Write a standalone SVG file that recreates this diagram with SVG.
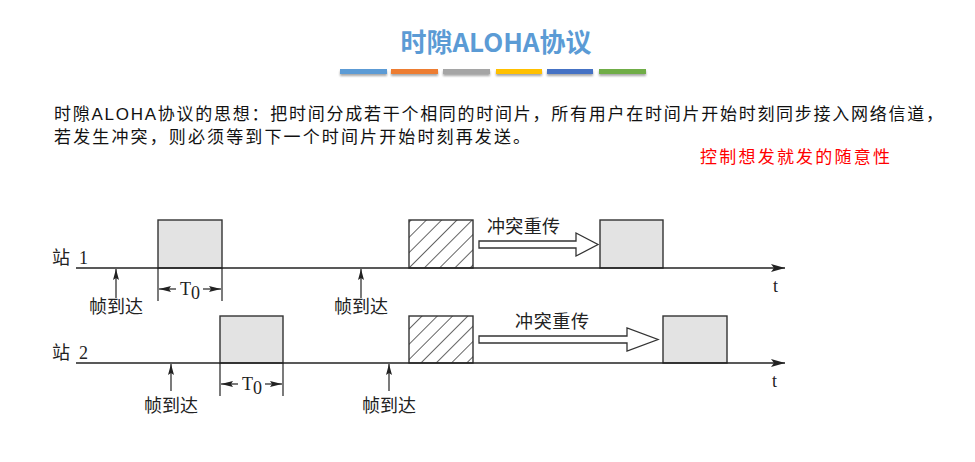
<svg xmlns="http://www.w3.org/2000/svg" width="975" height="462" viewBox="0 0 975 462">
  <style>
    .title { font-family: "Noto Sans CJK SC", "Liberation Sans", sans-serif; font-size: 26px; font-weight: bold; fill: #5B9BD5; }
    .para { font-family: "Liberation Sans", "Noto Sans CJK SC", sans-serif; font-size: 17px; fill: #111; }
    .note { font-family: "Liberation Sans", "Noto Sans CJK SC", sans-serif; font-size: 17px; fill: #FF0000; }
    .lbl { font-family: "Liberation Serif", "Noto Sans CJK SC", serif; font-size: 18px; fill: #222; }
    .axis { stroke: #222; stroke-width: 1.7; fill: none; }
    .thin { stroke: #222; stroke-width: 1.2; fill: none; }
    .frame { fill: #E3E3E3; stroke: #333; stroke-width: 1.4; }
    .collide { fill: url(#hatch); stroke: #333; stroke-width: 1.4; }
    .retx { fill: #FFFFFF; stroke: #333; stroke-width: 1.3; }
  </style>
  <defs>
    <pattern id="hatch" patternUnits="userSpaceOnUse" width="10.8" height="10.8" x="3" patternTransform="rotate(45)">
      <line x1="0" y1="0" x2="0" y2="10.8" stroke="#222" stroke-width="1.4"/>
    </pattern>
    <marker id="axisHead" viewBox="0 0 14 8" refX="14" refY="4" markerWidth="14" markerHeight="8" markerUnits="userSpaceOnUse" orient="auto">
      <path d="M0,0 L14,4 L0,8 L3,4 Z" fill="#222"/>
    </marker>
    <marker id="upHead" viewBox="0 0 11 6" refX="11" refY="3" markerWidth="11" markerHeight="6" markerUnits="userSpaceOnUse" orient="auto">
      <path d="M0,0 L11,3 L0,6 L2,3 Z" fill="#222"/>
    </marker>
    <marker id="dimHead" viewBox="0 0 12 6" refX="12" refY="3" markerWidth="12" markerHeight="6" markerUnits="userSpaceOnUse" orient="auto">
      <path d="M0,0 L12,3 L0,6 L2,3 Z" fill="#222"/>
    </marker>
    <filter id="barShadow" x="-10%" y="-50%" width="120%" height="250%">
      <feDropShadow dx="0" dy="2" stdDeviation="1.2" flood-color="#000" flood-opacity="0.35"/>
    </filter>
  </defs>

  <!-- heading -->
  <g id="heading">
    <text class="title" x="496" y="52" text-anchor="middle">时隙ALOHA协议</text>
    <g filter="url(#barShadow)">
      <rect x="340" y="69" width="47" height="5" fill="#5B9BD5"/>
      <rect x="391" y="69" width="47" height="5" fill="#ED7D31"/>
      <rect x="443" y="69" width="47" height="5" fill="#A5A5A5"/>
      <rect x="496" y="69" width="46" height="5" fill="#FFC000"/>
      <rect x="547" y="69" width="46" height="5" fill="#4472C4"/>
      <rect x="599" y="69" width="47" height="5" fill="#70AD47"/>
    </g>
  </g>

  <!-- description -->
  <g id="description">
    <text class="para" x="54" y="120" textLength="889" lengthAdjust="spacing">时隙ALOHA协议的思想：把时间分成若干个相同的时间片，所有用户在时间片开始时刻同步接入网络信道，</text>
    <text class="para" x="54" y="143" textLength="476" lengthAdjust="spacing">若发生冲突，则必须等到下一个时间片开始时刻再发送。</text>
    <text class="note" x="700" y="163" textLength="190" lengthAdjust="spacing">控制想发就发的随意性</text>
  </g>

  <!-- station 1 timeline -->
  <g id="station1">
    <text class="lbl" x="52" y="264">站</text>
    <text class="lbl" x="79" y="264">1</text>
    <rect class="frame" x="158" y="220" width="64" height="48"/>
    <rect class="collide" x="409" y="220" width="64" height="48"/>
    <rect class="frame" x="600" y="220" width="63" height="48"/>
    <text class="lbl" x="487" y="233" textLength="73" lengthAdjust="spacing">冲突重传</text>
    <text class="lbl" x="773" y="292" font-size="17">t</text>
    <text class="lbl" x="116" y="313" text-anchor="middle">帧到达</text>
    <text class="lbl" x="361" y="313" text-anchor="middle">帧到达</text>
    <text class="lbl" x="180" y="295">T</text>
    <text class="lbl" x="191" y="299" font-size="13">0</text>
  </g>

  <!-- station 2 timeline -->
  <g id="station2">
    <text class="lbl" x="52" y="359">站</text>
    <text class="lbl" x="79" y="359">2</text>
    <rect class="frame" x="220" y="316" width="63" height="47"/>
    <rect class="collide" x="409" y="316" width="64" height="47"/>
    <rect class="frame" x="663" y="316" width="64" height="47"/>
    <text class="lbl" x="515" y="328" textLength="74" lengthAdjust="spacing">冲突重传</text>
    <text class="lbl" x="772" y="387" font-size="17">t</text>
    <text class="lbl" x="171" y="412" text-anchor="middle">帧到达</text>
    <text class="lbl" x="389" y="412" text-anchor="middle">帧到达</text>
    <text class="lbl" x="242" y="390">T</text>
    <text class="lbl" x="253" y="394" font-size="13">0</text>
  </g>

  <!-- connectors: time axes, arrival arrows, T0 spans, retransmission arrows -->
  <g id="connectors">
    <line class="axis" x1="76" y1="268" x2="785" y2="268" marker-end="url(#axisHead)"/>
    <line class="axis" x1="76" y1="363" x2="785" y2="363" marker-end="url(#axisHead)"/>

    <line class="thin" x1="116" y1="298" x2="116" y2="269" marker-end="url(#upHead)"/>
    <line class="thin" x1="361" y1="298" x2="361" y2="269" marker-end="url(#upHead)"/>
    <line class="thin" x1="171" y1="391" x2="171" y2="364" marker-end="url(#upHead)"/>
    <line class="thin" x1="389" y1="391" x2="389" y2="364" marker-end="url(#upHead)"/>

    <line class="thin" x1="158" y1="268" x2="158" y2="301"/>
    <line class="thin" x1="222" y1="268" x2="222" y2="301"/>
    <line class="thin" x1="176" y1="289" x2="159" y2="289" marker-end="url(#dimHead)"/>
    <line class="thin" x1="203" y1="289" x2="221" y2="289" marker-end="url(#dimHead)"/>

    <line class="thin" x1="220" y1="363" x2="220" y2="396"/>
    <line class="thin" x1="283" y1="363" x2="283" y2="396"/>
    <line class="thin" x1="238" y1="384" x2="221" y2="384" marker-end="url(#dimHead)"/>
    <line class="thin" x1="265" y1="384" x2="282" y2="384" marker-end="url(#dimHead)"/>

    <path class="retx" d="M479,241 L576,241 L576,233 L598,244.5 L576,256 L576,248 L479,248 Z"/>
    <path class="retx" d="M479,336 L627,336 L627,328 L658,339.5 L627,351 L627,343 L479,343 Z"/>
  </g>
</svg>
